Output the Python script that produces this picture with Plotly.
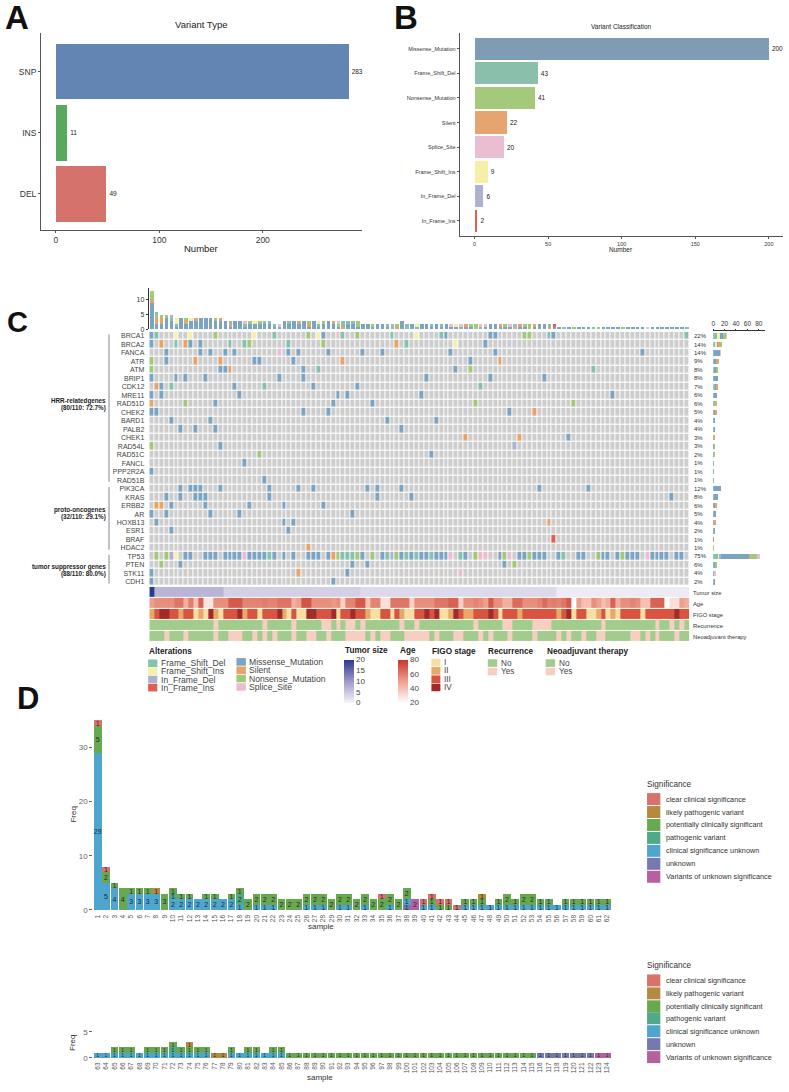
import plotly.graph_objects as go

W, H = 789, 1092
FONT = "Liberation Sans"

# panel A
variant_types = ["DEL", "INS", "SNP"]
variant_counts = [49, 11, 283]
variant_colors = ["#d4726b", "#59a95c", "#6285b3"]

# panel B
classes = ["Missense_Mutation", "Frame_Shift_Del", "Nonsense_Mutation", "Silent", "Splice_Site",
           "Frame_Shift_Ins", "In_Frame_Del", "In_Frame_Ins"]
class_counts = [200, 43, 41, 22, 20, 9, 6, 2]
class_colors = ["#7e9db5", "#8ac0ab", "#a5c97a", "#e5a470", "#ebbdd2", "#f5efa8", "#aeb1d0", "#e0604f"]

# panel C, hits per gene as sample index + type letter
# F Frame_Shift_Del, I Frame_Shift_Ins, D In_Frame_Del, N In_Frame_Ins,
# M Missense, S Silent, G Nonsense, P Splice_Site
genes = ["BRCA1", "BRCA2", "FANCA", "ATR", "ATM", "BRIP1", "CDK12", "MRE11", "RAD51D", "CHEK2",
         "BARD1", "PALB2", "CHEK1", "RAD54L", "RAD51C", "FANCL", "PPP2R2A", "RAD51B",
         "PIK3CA", "KRAS", "ERBB2", "AR", "HOXB13", "ESR1", "BRAF", "HDAC2",
         "TP53", "PTEN", "STK11", "CDH1"]
percents = ["22%", "14%", "14%", "9%", "8%", "8%", "7%", "6%", "6%", "5%", "4%", "4%", "3%", "3%", "2%",
            "1%", "1%", "1%", "12%", "8%", "6%", "5%", "4%", "2%", "1%", "1%", "75%", "6%", "4%", "2%"]
brca1 = "0M 1F 5I 8I 13G 21I 25F 32G 34I 35M 38P 39F 42G 49F 54I 59F 60M 69M 70M 76G 77G 81F 82M 109F"
brca2 = "0M 2S 5F 7S 8M 10M 16F 19F 20G 28F 35G 50S 52F 62I 68M"
fanca = "3M 10M 12M 15M 17M 26P 28M 30M 36M 43M 47M 61M 70M 100M"
atr = "0G 3M 9S 14S 21M 22M 29M 39S 65M 71S"
atm = "0G 14M 15M 16S 31M 34F 62M 65G 90F"
brip1 = "0M 5M 7M 11M 26M 31M 56M 69M 80M"
cdk12 = "1S 2M 4F 17M 23F 33M 42M 67F"
mre11 = "0M 2M 18M 38M 40M 55M 94M"
rad51d = "0S 7G 13M 37M 45M 66G 86G"
chek2 = "0M 1M 31M 36M 73M 78S"
bard1 = "4M 12M 48M 58M"
palb2 = "6M 9M 13M 51M"
chek1 = "64S 75S 85M"
rad54l = "0G 14M 74D"
rad51c = "22G 57M"
fancl = "19M"
ppp2r2a = "0M"
rad51b = "23M"
pik3ca = "6M 8M 9M 10M 14M 24M 30M 33M 44M 46M 51M 79M 89M"
kras = "3M 6M 9M 10M 11M 24M 46M 53M 106M"
erbb2 = "1S 2S 4M 11M 20M 27M 35M"
ar = "0M 3M 12M 18M 41M"
hoxb13 = "1M 27M 29M 81S"
esr1 = "4M 28M"
braf = "82N"
hdac2 = "32S"
tp53 = ("1G 3G 4D 5I 7M 8M 11M 12M 13M 15M 16M 17M 18M 19P 20M 21M 22M 23M 24F 25M 27M 29M 32M 33M 34M "
        "36M 37S 38G 39F 40F 41F 42G 43M 45G 47M 48F 49D 50G 51M 52F 53M 54F 55M 56M 57F 58M 59M 60M 61P "
        "63F 64M 66G 67P 68P 71M 72G 73P 75M 76M 77G 78M 79M 80M 83M 84F 87M 88M 91G 92M 93M 95M 96G 97M "
        "98M 99M 101P 102M 103M 104M 105M 107M 108M")
pten = "2G 6M 41M 44M 72M 74G"
stk11 = "0M 30S 40M 63P"
cdh1 = "0M 37M"
gene_hits = [brca1, brca2, fanca, atr, atm, brip1, cdk12, mre11, rad51d, chek2, bard1, palb2, chek1, rad54l,
             rad51c, fancl, ppp2r2a, rad51b, pik3ca, kras, erbb2, ar, hoxb13, esr1, braf, hdac2,
             tp53, pten, stk11, cdh1]

type_letters = "FIDNMSGP"
type_names = ["Frame_Shift_Del", "Frame_Shift_Ins", "In_Frame_Del", "In_Frame_Ins",
              "Missense_Mutation", "Silent", "Nonsense_Mutation", "Splice_Site"]
type_colors = ["#85c1ad", "#f5efa8", "#aeb0d0", "#e0604f", "#7ba3c2", "#e8a468", "#a2c878", "#ecbdd2"]
top_stack_order = "MSGFPIDN"

# clinical tracks, one value per sample
tumor_size = [20] + [7] * 14 + [4] * 28 + [3] * 40 + [1] * 27
age = [50, 55, 55, 55, 55, 62, 62, 45, 60, 40, 68, 28, 28, 55, 55, 55, 70, 70, 70, 58, 58, 58, 58, 60, 58, 58,
       63, 63, 63, 45, 50, 72, 72, 55, 55, 55, 55, 52, 55, 35, 58, 58, 70, 70, 40, 58, 58, 30, 30, 62, 62, 62,
       62, 35, 55, 55, 55, 55, 62, 62, 62, 68, 68, 35, 55, 55, 58, 55, 50, 70, 55, 55, 45, 45, 65, 65, 55, 55,
       55, 58, 65, 58, 60, 58, 62, 70, 20, 50, 40, 40, 55, 50, 40, 45, 68, 45, 55, 55, 58, 55, 40, 40, 68, 68,
       68, 20, 30, 30, 50, 45]
figo = [2, 3, 4, 4, 3, 3, 2, 3, 3, 1, 2, 1, 4, 2, 1, 3, 3, 3, 4, 2, 3, 3, 1, 3, 3, 3, 4, 2, 1, 3, 1, 1, 4, 4, 3, 3, 3,
        4, 1, 3, 3, 4, 3, 3, 2, 1, 1, 3, 3, 1, 3, 2, 1, 1, 3, 3, 4, 3, 4, 1, 1, 2, 4, 3, 2, 2, 3, 3, 3, 4, 3, 1, 3, 3,
        3, 2, 3, 3, 3, 3, 3, 3, 3, 2, 3, 4, 1, 3, 3, 1, 1, 2, 3, 1, 2, 1, 3, 3, 3, 3, 1, 3, 3, 3, 3, 3, 3, 4, 3, 3]
# run lengths, No and Yes in turn, starting with No
recurrence_runs = [13, 1, 9, 1, 5, 1, 5, 2, 1, 1, 1, 2, 1, 1, 7, 1, 2, 1, 11, 1, 5, 2, 4, 4, 10, 1, 10, 1, 2, 1, 1, 1, 1]
neoadjuvant_runs = [3, 1, 3, 1, 5, 1, 2, 3, 2, 1, 1, 1, 1, 1, 3, 1, 2, 2, 2, 1, 3, 4, 1, 1, 1, 2, 3, 5, 1, 1, 3, 2, 3,
                    1, 1, 1, 3, 1, 4, 1, 4, 1, 1, 1, 2, 1, 2, 2, 5, 2, 1, 1, 1, 1, 3, 1, 2]
track_names = ["Tumor size", "Age", "FIGO stage", "Recurrence", "Neoadjuvant therapy"]
figo_labels = ["I", "II", "III", "IV"]
figo_colors = ["#f6dfa0", "#e8a868", "#d9533f", "#a32a2a"]
yes_no_labels = ["No", "Yes"]
yes_no_colors = ["#a2cc8c", "#f6cfc0"]

# panel D, samples 1-124, counts per significance level
sig_names = ["clear clinical significance", "likely pathogenic variant", "potentially clinically significant",
             "pathogenic variant", "clinical significance unknown", "unknown", "Variants of unknown significance"]
sig_colors = ["#d9726b", "#b38a3e", "#68a84f", "#4faa85", "#4ea6cf", "#7878b0", "#b5609f"]
sig_stack_order = [6, 5, 4, 3, 2, 1, 0]
samples_top = list(range(1, 63))
samples_low = list(range(63, 125))
clear = [1, 1, 0, 0, 0, 0, 0, 0, 0, 0, 0, 0, 0, 0, 0, 0, 0, 0, 0, 0, 0, 0, 0, 0, 0, 0, 0, 0, 0, 0, 0,
         0, 0, 0, 1, 0, 0, 0, 0, 1, 1, 1, 1, 1, 0, 0, 0, 0, 0, 0, 0, 0, 0, 0, 0, 0, 0, 0, 0, 0, 0, 0] + [0] * 62
likely = [0, 0, 0, 0, 0, 0, 0, 1, 0, 0, 0, 0, 0, 0, 0, 0, 0, 0, 0, 0, 0, 0, 0, 0, 0, 0, 0, 0, 0, 0, 0,
          0, 0, 0, 0, 0, 0, 0, 0, 0, 0, 0, 0, 0, 0, 0, 1, 0, 0, 0, 0, 0, 0, 0, 0, 0, 0, 0, 0, 0, 0, 0] + \
         [0] * 11 + [1, 0, 0, 1, 1] + [0] * 46
potential = [5, 2, 1, 4, 1, 1, 1, 0, 3, 1, 1, 1, 0, 1, 1, 0, 1, 1, 2, 2, 2, 2, 2, 2, 2, 2, 2, 2, 2, 2, 2,
             2, 2, 2, 2, 2, 2, 2, 0, 0, 1, 1, 1, 0, 1, 1, 1, 0, 1, 2, 1, 2, 2, 1, 1, 0, 1, 1, 1, 1, 1, 1] + \
            [0, 0, 1, 1, 1, 0, 1, 1, 1, 1, 1, 1, 1, 1, 0, 0, 1, 0, 1, 1, 0, 1, 1] + [1] * 30 + [0] * 9
pathogenic = [0] * 9 + [1] + [0] * 7 + [2] + [0] * 44 + [0] * 9 + [1] + [0] * 52
unknown_sig = [29, 5, 4, 0, 3, 3, 3, 3, 0, 2, 2, 2, 2, 2, 2, 2, 2, 1, 0, 1, 1, 1, 0, 0, 0, 1, 1, 1, 0, 1, 1,
               0, 1, 0, 0, 1, 0, 1, 0, 1, 1, 0, 0, 0, 1, 1, 1, 1, 1, 1, 1, 1, 1, 1, 1, 1, 1, 1, 1, 1, 1, 1] + \
              [1, 1, 1, 1, 1, 1, 1, 1, 1, 1, 1, 1, 1, 1, 0, 0, 1, 1, 1, 1, 1, 1, 1] + [0] * 39
unknown = [0] * 37 + [1] + [0] * 24 + [0] * 53 + [1] * 7 + [0, 0]
vus = [0] * 38 + [2] + [0] * 23 + [0] * 60 + [1, 1]
sig_values = [clear, likely, potential, pathogenic, unknown_sig, unknown, vus]


def expand_runs(runs):
    out = []
    for i, n in enumerate(runs):
        out += [i % 2] * n
    return out


def px(x):
    return x / W


def py(y):
    return 1 - y / H


def dom_x(a, b):
    return [px(a), px(b)]


def dom_y(top, bottom):
    return [py(bottom), py(top)]


annotations = []
shapes = []


def label(x, y, text, size=8, color="#333333", anchor="left", bold=False, angle=0):
    if bold:
        text = "<b>" + text + "</b>"
    annotations.append(dict(x=px(x), y=py(y), xref="paper", yref="paper", text=text, showarrow=False,
                            xanchor=anchor, yanchor="middle", align=anchor, textangle=angle, borderpad=0,
                            font=dict(family=FONT, size=size, color=color)))


def swatch(x0, y0, x1, y1, color):
    shapes.append(dict(type="rect", xref="paper", yref="paper", x0=px(x0), x1=px(x1), y0=py(y0), y1=py(y1),
                       fillcolor=color, line=dict(width=0), layer="above"))


fig = go.Figure()

# ---- A
fig.add_trace(go.Bar(x=variant_counts, y=variant_types, orientation="h", width=0.91,
                     marker=dict(color=variant_colors, line=dict(width=0)), text=variant_counts,
                     textposition="outside", cliponaxis=False,
                     textfont=dict(family=FONT, size=6.5, color="#222222"), xaxis="x", yaxis="y"))
# ---- B
fig.add_trace(go.Bar(x=class_counts, y=classes, orientation="h", width=0.9,
                     marker=dict(color=class_colors, line=dict(width=0)), text=class_counts,
                     textposition="outside", cliponaxis=False,
                     textfont=dict(family=FONT, size=6.5, color="#222222"), xaxis="x2", yaxis="y2"))

# ---- C matrix
n_samples = 110
matrix = [[0] * n_samples for g in genes]
for r, hits in enumerate(gene_hits):
    for h in hits.split():
        matrix[r][int(h[:-1])] = type_letters.index(h[-1]) + 1

scale = [[0, "#cdcdcd"], [1 / 9, "#cdcdcd"]]
for i, c in enumerate(type_colors):
    scale += [[(i + 1) / 9, c], [(i + 2) / 9, c]]
fig.add_trace(go.Heatmap(z=matrix, x=list(range(n_samples)), y=list(range(len(genes))), zmin=-0.5, zmax=8.5,
                         colorscale=scale, showscale=False, xgap=1, ygap=1.2, xaxis="x4", yaxis="y4"))

# top and side bars count the matrix
samples = list(range(n_samples))
for letter in top_stack_order:
    code = type_letters.index(letter) + 1
    counts = [sum(1 for row in matrix if row[s] == code) for s in samples]
    fig.add_trace(go.Bar(x=samples, y=counts, width=0.72, marker=dict(color=type_colors[code - 1], line=dict(width=0)),
                         xaxis="x3", yaxis="y3"))
for code in range(1, 9):
    counts = [row.count(code) for row in matrix]
    fig.add_trace(go.Bar(x=counts, y=list(range(len(genes))), orientation="h", width=0.62,
                         marker=dict(color=type_colors[code - 1], line=dict(width=0)), xaxis="x5", yaxis="y5"))

# clinical tracks
fig.add_trace(go.Heatmap(z=[tumor_size], x=samples, y=[0], zmin=0, zmax=20, ygap=1,
                         colorscale=[[0, "#f7f4f9"], [0.5, "#9e9ac8"], [1, "#2b3a8f"]],
                         colorbar=dict(x=px(343), xanchor="left", y=py(662), yanchor="top", len=43, lenmode="pixels",
                                       thickness=10, thicknessmode="pixels", xpad=0, ypad=0, outlinewidth=0,
                                       ticks="", tickvals=[0, 5, 10, 15, 20],
                                       tickfont=dict(family=FONT, size=8, color="#444444")),
                         xaxis="x6", yaxis="y6"))
fig.add_trace(go.Heatmap(z=[age], x=samples, y=[1], zmin=20, zmax=80, ygap=1,
                         colorscale=[[0, "#ffffff"], [0.5, "#eda08c"], [1, "#c8382c"]],
                         colorbar=dict(x=px(397), xanchor="left", y=py(662), yanchor="top", len=43, lenmode="pixels",
                                       thickness=10, thicknessmode="pixels", xpad=0, ypad=0, outlinewidth=0,
                                       ticks="", tickvals=[20, 40, 60, 80],
                                       tickfont=dict(family=FONT, size=8, color="#444444")),
                         xaxis="x6", yaxis="y6"))
figo_scale = []
for i, c in enumerate(figo_colors):
    figo_scale += [[i / 4, c], [(i + 1) / 4, c]]
fig.add_trace(go.Heatmap(z=[figo], x=samples, y=[2], zmin=0.5, zmax=4.5, ygap=1, colorscale=figo_scale,
                         showscale=False, xaxis="x6", yaxis="y6"))
yes_no_scale = [[0, yes_no_colors[0]], [0.5, yes_no_colors[0]], [0.5, yes_no_colors[1]], [1, yes_no_colors[1]]]
fig.add_trace(go.Heatmap(z=[expand_runs(recurrence_runs)], x=samples, y=[3], zmin=0, zmax=1, ygap=1,
                         colorscale=yes_no_scale, showscale=False, xaxis="x6", yaxis="y6"))
fig.add_trace(go.Heatmap(z=[expand_runs(neoadjuvant_runs)], x=samples, y=[4], zmin=0, zmax=1, ygap=1,
                         colorscale=yes_no_scale, showscale=False, xaxis="x6", yaxis="y6"))

# ---- D
for k in sig_stack_order:
    vals = sig_values[k]
    top_vals = vals[:62]
    low_vals = vals[62:124]
    fig.add_trace(go.Bar(x=samples_top, y=top_vals, width=0.92, marker=dict(color=sig_colors[k], line=dict(width=0)),
                         text=[str(v) if v else "" for v in top_vals], textposition="inside", textangle=0,
                         insidetextanchor="middle", constraintext="none",
                         textfont=dict(family=FONT, size=7, color="#1c2b33"), xaxis="x7", yaxis="y7"))
    fig.add_trace(go.Bar(x=samples_low, y=low_vals, width=0.92, marker=dict(color=sig_colors[k], line=dict(width=0)),
                         text=[str(v) if v else "" for v in low_vals], textposition="inside", textangle=0,
                         insidetextanchor="middle", constraintext="none",
                         textfont=dict(family=FONT, size=5, color="#1c2b33"), xaxis="x8", yaxis="y8"))

# ---- text and legends
for x, y, t, s in [(15, 18, "A", 33), (405, 18, "B", 33), (16, 323, "C", 29), (26, 701, "D", 31)]:
    label(x, y, t, size=s, color="#111111", anchor="center", bold=True)
label(200, 25, "Variant Type", size=9.5, anchor="center", color="#222222")
label(200, 249, "Number", size=9.5, anchor="center", color="#222222")
label(621, 27, "Variant Classification", size=6.5, anchor="center", color="#222222")
label(621, 250, "Number", size=6.5, anchor="center", color="#222222")

for y0, y1, lines, ys in [(0, 17, ["HRR-relatedgenes", "(80/110: 72.7%)"], (402, 410)),
                          (18, 25, ["proto-oncogenes", "(32/110: 29.1%)"], (512, 519)),
                          (26, 29, ["tumor suppressor genes", "(88/110: 80.0%)"], (568.7, 575.7))]:
    shapes.append(dict(type="line", xref="paper", yref="y4", x0=px(107.3), x1=px(107.3), y0=y0 - 0.2, y1=y1 + 0.2,
                       line=dict(color="#888888", width=1)))
    for t, yy in zip(lines, ys):
        label(105.5, yy, t, size=6.3, anchor="right", color="#222222", bold=True)

for r, p in enumerate(percents):
    annotations.append(dict(x=px(692), y=r, xref="paper", yref="y4", text=p, showarrow=False, xanchor="left",
                            yanchor="middle", font=dict(family=FONT, size=6, color="#333333")))
for yy, t in zip([595, 606, 617, 628, 639], track_names):
    label(691.7, yy, t, size=5.8, color="#333333")

label(146, 654, "Alterations", size=8.2, color="#222222", bold=True)
for yy, i in zip([665.7, 673.7, 682, 690.2], [0, 1, 2, 3]):
    swatch(146.5, yy - 3.8, 155.7, yy + 3.8, type_colors[i])
    label(158.7, yy, type_names[i], size=8.6, color="#444444")
for yy, i in zip([664.3, 672.7, 681, 689.5], [4, 5, 6, 7]):
    swatch(235, yy - 3.8, 244.5, yy + 3.8, type_colors[i])
    label(246.7, yy, type_names[i], size=8.6, color="#444444")
label(343, 653, "Tumor size", size=8.2, color="#222222", bold=True)
label(398, 653, "Age", size=8.2, color="#222222", bold=True)
label(430, 654, "FIGO stage", size=8.2, color="#222222", bold=True)
for yy, t, c in zip([665, 673.3, 681.7, 690], figo_labels, figo_colors):
    swatch(430.5, yy - 3.8, 439.5, yy + 3.8, c)
    label(442.5, yy, t, size=8.2, color="#444444")
label(486.7, 654, "Recurrence", size=8.2, color="#222222", bold=True)
label(545, 654, "Neoadjuvant therapy", size=8.2, color="#222222", bold=True)
for x0, in [(487,), (545,)]:
    for yy, t, c in zip([665.5, 674], yes_no_labels, yes_no_colors):
        swatch(x0, yy - 3.8, x0 + 9.5, yy + 3.8, c)
        label(x0 + 12.5, yy, t, size=8.2, color="#444444")

for title_y, rows in [(787, [802, 815, 828, 841, 854, 867, 880]), (969, [984, 997, 1010, 1022, 1035, 1048, 1061])]:
    label(646, title_y, "Significance", size=8.2, color="#333333")
    for yy, t, c in zip(rows, sig_names, sig_colors):
        swatch(646.7, yy - 6, 660, yy + 6, c)
        label(665, yy, t, size=7.3, color="#333333")

label(70.7, 818, "Freq", size=8, color="#333333", anchor="center", angle=-90)
label(70, 1047, "Freq", size=8, color="#333333", anchor="center", angle=-90)
label(320, 930, "sample", size=8, color="#333333", anchor="center")
label(319, 1081.7, "sample", size=8, color="#333333", anchor="center")

# ---- axes
line_a = dict(showline=True, linecolor="#555555", linewidth=1.3, ticks="outside", ticklen=2, tickcolor="#555555",
              showgrid=False, zeroline=False)
line_c = dict(showline=True, linecolor="#333333", linewidth=0.7, ticks="outside", ticklen=2, tickcolor="#333333",
              showgrid=False, zeroline=False)
bare = dict(showline=False, ticks="", showgrid=False, zeroline=False, showticklabels=False)
d_x = dict(showline=False, ticks="", showgrid=False, zeroline=False, tickmode="array", tickangle=-90,
           tickfont=dict(family=FONT, size=6.5, color="#555555"), ticklabelstandoff=1)
d_y = dict(showline=False, ticks="outside", ticklen=2.5, tickcolor="#666666", showgrid=False, zeroline=False,
           tickfont=dict(family=FONT, size=8, color="#666666"))

fig.update_layout(
    width=W, height=H, margin=dict(l=0, r=0, t=0, b=0), paper_bgcolor="white", plot_bgcolor="white",
    barmode="stack", showlegend=False, autosize=False, annotations=annotations, shapes=shapes,
    xaxis=dict(domain=dom_x(39.3, 361), range=[-14.1, 296], tickvals=[0, 100, 200],
               tickfont=dict(family=FONT, size=8.5, color="#333333"), anchor="y", **line_a),
    yaxis=dict(domain=dom_y(33, 230.7), range=[-0.59, 2.635], type="category",
               tickfont=dict(family=FONT, size=8.5, color="#333333"), anchor="x", **line_a),
    xaxis2=dict(domain=dom_x(459, 783), range=[-10, 209.6], tickvals=[0, 50, 100, 150, 200],
                tickfont=dict(family=FONT, size=5.5, color="#333333"), anchor="y2", **line_a),
    yaxis2=dict(domain=dom_y(33, 236.7), range=[7.607, -0.648], type="category",
                tickfont=dict(family=FONT, size=5.5, color="#333333"), anchor="x2", **line_a),
    xaxis3=dict(domain=dom_x(147.7, 689), range=[-0.5, 109.5], anchor="y3", **bare),
    yaxis3=dict(domain=dom_y(288.7, 330.7), range=[0, 14], tickvals=[0, 5, 10], anchor="free", position=px(146),
                tickfont=dict(family=FONT, size=7, color="#333333"), **line_c),
    xaxis4=dict(domain=dom_x(147.7, 689), range=[-0.5, 109.5], anchor="y4", **bare),
    yaxis4=dict(domain=dom_y(333, 588.3), range=[29.5, -0.5], tickmode="array", tickvals=list(range(len(genes))),
                ticktext=genes, tickfont=dict(family=FONT, size=7, color="#444444"), ticks="", showline=False,
                showgrid=False, zeroline=False, ticklabelstandoff=4, anchor="x4"),
    xaxis5=dict(domain=dom_x(713, 765), range=[0, 91], side="top", tickvals=[0, 20, 40, 60, 80], anchor="free",
                position=py(331.7), tickfont=dict(family=FONT, size=6.5, color="#333333"), **line_c),
    yaxis5=dict(domain=dom_y(333, 588.3), range=[29.5, -0.5], anchor="x5", **bare),
    xaxis6=dict(domain=dom_x(147.7, 689), range=[-0.5, 109.5], anchor="y6", **bare),
    yaxis6=dict(domain=dom_y(589, 644.3), range=[4.5, -0.5], anchor="x6", **bare),
    xaxis7=dict(domain=dom_x(91, 612), range=[0.403, 62.63], tickvals=samples_top, anchor="y7", **d_x),
    yaxis7=dict(domain=dom_y(722, 915), range=[-0.31, 35.2], tickvals=[0, 10, 20, 30], anchor="x7", **d_y),
    xaxis8=dict(domain=dom_x(91, 612), range=[62.403, 124.63], tickvals=samples_low, anchor="y8", **d_x),
    yaxis8=dict(domain=dom_y(1030, 1063), range=[-0.25, 6.1], tickvals=[0, 5], anchor="x8", **d_y),
)

fig.write_html("out.html", config={"displayModeBar": False}, post_script="document.body.style.margin='0';")
